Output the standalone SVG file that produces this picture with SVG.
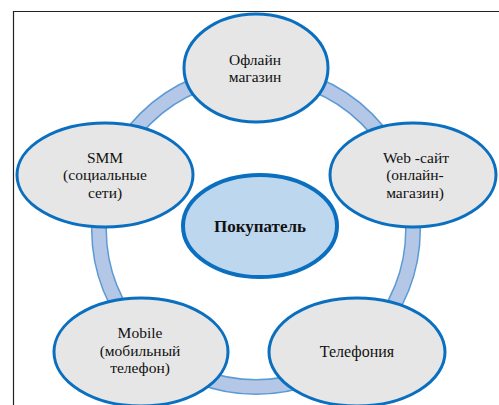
<svg xmlns="http://www.w3.org/2000/svg" width="499" height="405" viewBox="0 0 499 405">
<style>
.node{fill:#e6e6e6;stroke:#0b6fbf;stroke-width:3}
.center{fill:#bdd7ee;stroke:#0b6fbf;stroke-width:4}
</style>
<rect width="499" height="405" fill="#fff"/>
<path d="M13.5 405V11.5H499" fill="none" stroke="#222" stroke-width="1.2"/>
<g id="connectors">
<circle cx="256" cy="230" r="157" fill="none" stroke="#5b9bd5" stroke-width="16"/>
<circle cx="256" cy="230" r="157" fill="none" stroke="#b4c7e7" stroke-width="13"/>
</g>
<g font-family="Liberation Serif, Times New Roman, serif" font-size="15.5" fill="#111" text-anchor="middle">
<g id="offline">
<ellipse class="node" cx="256" cy="68" rx="72" ry="54"/>
<text x="255" y="64.5">Офлайн</text>
<text x="255" y="82">магазин</text>
</g>
<g id="web">
<ellipse class="node" cx="413" cy="175" rx="83" ry="52"/>
<text x="416" y="162.5">Web -сайт</text>
<text x="415" y="180">(онлайн-</text>
<text x="415" y="197.5">магазин)</text>
</g>
<g id="smm">
<ellipse class="node" cx="105" cy="175" rx="88" ry="52"/>
<text x="105" y="162.5">SMM</text>
<text x="105" y="180">(социальные</text>
<text x="105" y="197.5">сети)</text>
</g>
<g id="mobile">
<ellipse class="node" cx="141" cy="352" rx="87" ry="54"/>
<text x="140" y="338">Mobile</text>
<text x="140" y="355.5">(мобильный</text>
<text x="140" y="373">телефон)</text>
</g>
<g id="telephony">
<ellipse class="node" cx="357" cy="352" rx="88" ry="54"/>
<text x="357" y="357" font-size="16">Телефония</text>
</g>
<g id="buyer">
<ellipse class="center" cx="260" cy="226" rx="77" ry="51"/>
<text x="260" y="232" font-weight="bold" font-size="17">Покупатель</text>
</g>
</g>
</svg>
